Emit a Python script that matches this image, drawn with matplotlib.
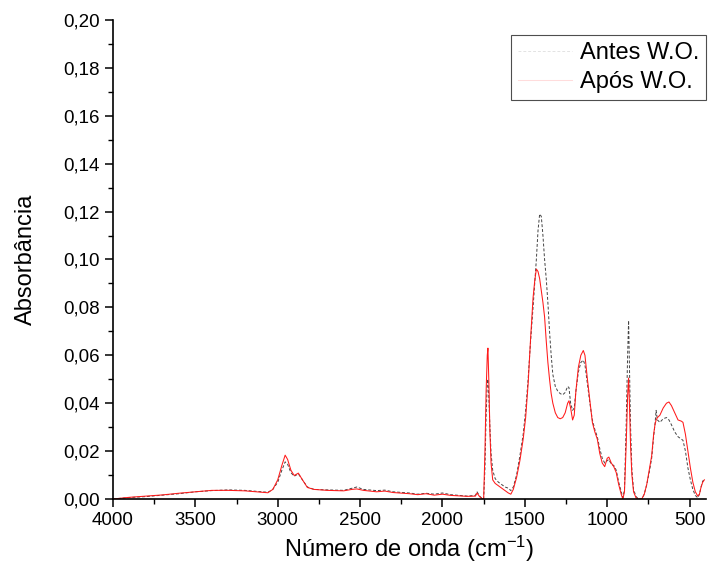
import matplotlib
matplotlib.use("Agg")
import matplotlib.pyplot as plt
from matplotlib.ticker import MultipleLocator, FuncFormatter

plt.rcParams['font.family'] = ['Liberation Sans', 'DejaVu Sans']
plt.rcParams['mathtext.fontset'] = 'custom'
plt.rcParams['mathtext.rm'] = 'Liberation Sans'
plt.rcParams['mathtext.default'] = 'regular'

wavenumber = [4000, 3900, 3800, 3700, 3600, 3500, 3400, 3300, 3200, 3100, 3060, 3030, 3000, 2975, 2955, 2940,
              2920, 2900, 2875, 2850, 2820, 2780, 2700, 2600, 2550, 2520, 2480, 2400, 2350, 2300, 2200, 2150,
              2100, 2050, 2000, 1950, 1900, 1850, 1800, 1790, 1775, 1760, 1750, 1742, 1735, 1728, 1724, 1718,
              1712, 1705, 1695, 1680, 1660, 1640, 1620, 1600, 1585, 1570, 1550, 1530, 1510, 1495, 1480, 1465,
              1450, 1440, 1430, 1420, 1410, 1400, 1390, 1380, 1370, 1360, 1350, 1340, 1330, 1315, 1300, 1285,
              1270, 1255, 1240, 1232, 1222, 1210, 1200, 1190, 1175, 1160, 1145, 1135, 1120, 1105, 1090, 1075,
              1060, 1045, 1030, 1015, 1000, 990, 975, 960, 945, 930, 915, 905, 895, 885, 876, 870,
              865, 858, 850, 840, 825, 810, 790, 775, 760, 745, 730, 718, 710, 703, 695, 680,
              660, 640, 625, 610, 590, 570, 550, 540, 525, 510, 495, 480, 465, 450, 440, 430,
              420, 410]

antes = [0.0, 0.0006, 0.001, 0.0016, 0.0022, 0.003, 0.0035, 0.0038, 0.0036, 0.003, 0.0028, 0.004, 0.007, 0.012, 0.0155, 0.0145,
         0.011, 0.0095, 0.0105, 0.008, 0.005, 0.004, 0.0038, 0.0036, 0.0045, 0.005, 0.004, 0.0035, 0.0037, 0.003, 0.0025, 0.002,
         0.0024, 0.002, 0.0025, 0.0018, 0.0015, 0.0012, 0.0015, 0.003, 0.0012, 0.0003, 0.0, 0.013, 0.035, 0.048, 0.05, 0.042,
         0.03, 0.019, 0.012, 0.0085, 0.007, 0.006, 0.005, 0.0045, 0.0035, 0.005, 0.010, 0.018, 0.027, 0.037, 0.05, 0.066,
         0.080, 0.090, 0.100, 0.112, 0.119, 0.118, 0.110, 0.100, 0.092, 0.082, 0.070, 0.060, 0.052, 0.047, 0.045, 0.044,
         0.0435, 0.0445, 0.047, 0.0465, 0.040, 0.037, 0.038, 0.045, 0.053, 0.057, 0.058, 0.056, 0.048, 0.040, 0.033, 0.029,
         0.026, 0.021, 0.017, 0.015, 0.016, 0.0165, 0.0145, 0.014, 0.012, 0.007, 0.003, 0.0005, 0.004, 0.030, 0.060, 0.0745,
         0.055, 0.030, 0.012, 0.004, 0.001, 0.0, 0.0, 0.002, 0.006, 0.011, 0.017, 0.026, 0.031, 0.037, 0.033, 0.032,
         0.0335, 0.034, 0.033, 0.031, 0.028, 0.026, 0.025, 0.0245, 0.020, 0.013, 0.008, 0.004, 0.0015, 0.0005, 0.002, 0.005,
         0.0075, 0.008]

apos = [0.0, 0.0007, 0.0012, 0.0017, 0.0024, 0.003, 0.0036, 0.0036, 0.0034, 0.0028, 0.0026, 0.004, 0.008, 0.014, 0.0183, 0.0165,
        0.012, 0.0098, 0.0108, 0.008, 0.0048, 0.004, 0.0036, 0.0034, 0.004, 0.0042, 0.0036, 0.003, 0.0033, 0.0027, 0.0022, 0.0018,
        0.0022, 0.0016, 0.002, 0.0015, 0.0013, 0.0011, 0.0012, 0.0025, 0.001, 0.0002, 0.0, 0.02, 0.045, 0.060, 0.063, 0.048,
        0.028, 0.015, 0.008, 0.0065, 0.0055, 0.0045, 0.0035, 0.0025, 0.002, 0.004, 0.009, 0.016, 0.025, 0.034, 0.048, 0.067,
        0.084, 0.091, 0.096, 0.095, 0.092, 0.087, 0.082, 0.076, 0.066, 0.057, 0.050, 0.044, 0.040, 0.036, 0.034, 0.0335,
        0.034, 0.036, 0.040, 0.041, 0.038, 0.033, 0.035, 0.045, 0.055, 0.060, 0.062, 0.060, 0.050, 0.041, 0.032, 0.028,
        0.025, 0.019, 0.015, 0.0135, 0.017, 0.0175, 0.015, 0.0135, 0.011, 0.006, 0.002, 0.0, 0.003, 0.022, 0.043, 0.0505,
        0.040, 0.022, 0.010, 0.003, 0.0005, 0.0, 0.0, 0.002, 0.006, 0.012, 0.018, 0.027, 0.031, 0.033, 0.034, 0.035,
        0.038, 0.040, 0.0405, 0.039, 0.036, 0.033, 0.0325, 0.032, 0.027, 0.020, 0.013, 0.007, 0.003, 0.0012, 0.002, 0.005,
        0.007, 0.008]

labels = ["Antes W.O.", "Após W.O."]

fig = plt.figure(figsize=(7.09, 5.75), dpi=100)
ax = fig.add_axes([0.1594, 0.1322, 0.8364, 0.8330])

ax.plot(wavenumber, antes, color="#444444", lw=0.7, ls=(0, (3, 2)), label=labels[0])
ax.plot(wavenumber, apos, color="#ff1a1a", lw=0.75, label=labels[1])

ax.set_xlim(4000, 400)
ax.set_ylim(0, 0.20)
ax.xaxis.set_major_locator(MultipleLocator(500))
ax.xaxis.set_minor_locator(MultipleLocator(250))
ax.yaxis.set_major_locator(MultipleLocator(0.02))
ax.yaxis.set_minor_locator(MultipleLocator(0.01))
ax.yaxis.set_major_formatter(FuncFormatter(lambda v, p: f"{v:.2f}".replace(".", ",")))

for s in ["top", "right"]:
    ax.spines[s].set_visible(False)
for s in ["left", "bottom"]:
    ax.spines[s].set_linewidth(1.2)

ax.tick_params(which="major", direction="out", length=6, width=1.1, labelsize=13.5)
ax.tick_params(which="minor", direction="out", length=3.5, width=1.0)

ax.set_xlabel("Número de onda (cm$^{-1}$)", fontsize=17, labelpad=3)
ax.set_ylabel("Absorbância", fontsize=17, labelpad=19)

leg = ax.legend(loc="upper right", bbox_to_anchor=(1.0, 0.969), fontsize=17, frameon=True,
                fancybox=False, edgecolor="#222222", handlelength=2.3, borderpad=0.3,
                labelspacing=0.3, handletextpad=0.3, borderaxespad=0.0)
leg.get_frame().set_linewidth(0.8)
for ln in leg.get_lines():
    ln.set_alpha(0.15)

fig.savefig("out.png", dpi=100)
